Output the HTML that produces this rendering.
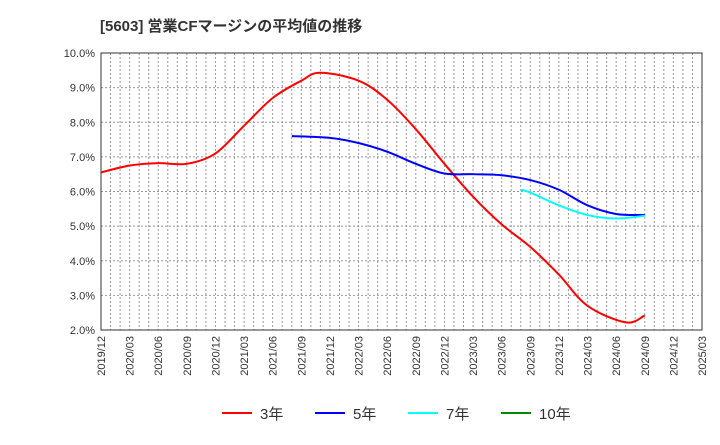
<!DOCTYPE html>
<html><head><meta charset="utf-8"><style>
body{margin:0;background:#fff;font-family:"Liberation Sans","Noto Sans CJK JP",sans-serif}
</style></head><body>
<svg id="c" width="720" height="440" xmlns="http://www.w3.org/2000/svg">
<text x="100" y="31" font-size="15" font-weight="bold" fill="#333" font-family="Liberation Sans,Noto Sans CJK JP,sans-serif">[5603]  営業CFマージンの平均値の推移</text>
<g id="grid"></g><g id="axes"></g><g id="series"></g><g id="legend"></g>
</svg>
<script>
const xLabels=["2019/12","2020/03","2020/06","2020/09","2020/12","2021/03","2021/06","2021/09","2021/12","2022/03","2022/06","2022/09","2022/12","2023/03","2023/06","2023/09","2023/12","2024/03","2024/06","2024/09","2024/12","2025/03"];
const yTicks=[2,3,4,5,6,7,8,9,10];
const s3m=[0,3,6,9,12,15,18,21,23,27,30,33,36,39,42,45,48,51,55,57];
const s3v=[6.55,6.75,6.82,6.8,7.1,7.9,8.7,9.2,9.43,9.2,8.65,7.8,6.8,5.85,5.05,4.4,3.6,2.7,2.22,2.42];
const s5m=[20,24,27,30,33,36,39,42,45,48,51,54,57];
const s5v=[7.6,7.55,7.4,7.15,6.8,6.52,6.5,6.47,6.33,6.05,5.6,5.35,5.32];
const s7m=[44,45,48,51,54,57];
const s7v=[6.05,5.97,5.6,5.32,5.22,5.3];
const s10m=[];const s10v=[];
const L=101,R=702,T=53,B=330;
const x=m=>L+(R-L)*m/63;
const y=v=>B-(B-T)*(v-2)/8;
const NS="http://www.w3.org/2000/svg";
function mk(p,t,a){const e=document.createElementNS(NS,t);for(const k in a)e.setAttribute(k,a[k]);p.appendChild(e);return e;}
const g=document.getElementById('grid'),ax=document.getElementById('axes'),se=document.getElementById('series'),lg=document.getElementById('legend');
for(let m=1;m<63;m++){const l=mk(g,'line',{x1:x(m),x2:x(m),y1:T,y2:B,stroke:'#999','stroke-dasharray':'2,2','stroke-width':1});

}
yTicks.forEach(v=>{const l=mk(g,'line',{x1:L,x2:R,y1:y(v),y2:y(v),stroke:'#999','stroke-dasharray':'2,2','stroke-width':1});


const t=mk(ax,'text',{x:L-6,y:y(v)+4,'text-anchor':'end','font-size':11,fill:'#333'});t.textContent=v.toFixed(1)+'%';

});
const fr=mk(ax,'rect',{x:L,y:T,width:R-L,height:B-T,fill:'none',stroke:'#333','stroke-width':1});


xLabels.forEach((lab,i)=>{const xx=x(i*3);const t=mk(ax,'text',{x:xx+4,y:B+6,'text-anchor':'end','font-size':11,fill:'#333',transform:`rotate(-90 ${xx+4} ${B+6})`});t.textContent=lab;

});
function path(ms,vs){const p=ms.map((m,i)=>[x(m),y(vs[i])]);if(p.length<2)return'';let d=`M${p[0][0]},${p[0][1]}`;
for(let i=0;i<p.length-1;i++){const p0=p[i-1]||p[i],p1=p[i],p2=p[i+1],p3=p[i+2]||p2;
d+=` C${p1[0]+(p2[0]-p0[0])/6},${p1[1]+(p2[1]-p0[1])/6} ${p2[0]-(p3[0]-p1[0])/6},${p2[1]-(p3[1]-p1[1])/6} ${p2[0]},${p2[1]}`;}return d;}
const ser=[[s3m,s3v,'#f00','3年','series-3y'],[s5m,s5v,'#00f','5年','series-5y'],[s7m,s7v,'#0ff','7年','series-7y'],[s10m,s10v,'#080','10年','series-10y']];
ser.forEach(([ms,vs,c,lab,n],i)=>{if(ms.length>1){const p=mk(se,'path',{d:path(ms,vs),fill:'none',stroke:c,'stroke-width':2});

}
const lx=222+i*93;
const l=mk(lg,'line',{x1:lx,x2:lx+30,y1:413,y2:413,stroke:c,'stroke-width':2});


const t=mk(lg,'text',{x:lx+38,y:419,'font-size':15,fill:'#333'});t.textContent=lab;

});
</script>
</body></html>
